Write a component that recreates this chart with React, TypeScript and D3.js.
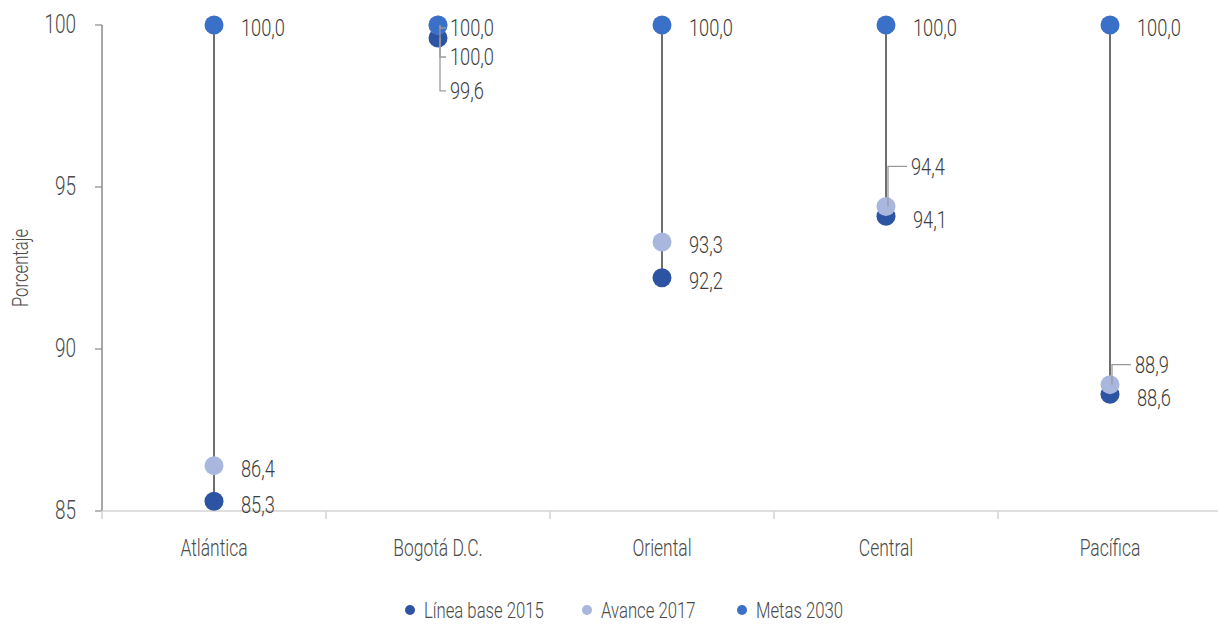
import React from 'react';
import * as d3 from 'd3';

const categories = ['Atlántica', 'Bogotá D.C.', 'Oriental', 'Central', 'Pacífica'];
const base2015 = [85.3, 99.6, 92.2, 94.1, 88.6];
const avance2017 = [86.4, 100.0, 93.3, 94.4, 88.9];
const metas2030 = [100.0, 100.0, 100.0, 100.0, 100.0];
const yTicks = [85, 90, 95, 100];
const seriesNames = ['Línea base 2015', 'Avance 2017', 'Metas 2030'];
const seriesColors = ['#2d54a3', '#a9b7de', '#3b70c9'];

const W = 1218;
const H = 626;
const FONT = "'Roboto', 'DejaVu Sans Condensed', sans-serif";
const SX = 0.76; // fake a condensed face

// label offsets for crowded points: [dx, dy] of label from the point, leader if true
type Lbl = { dx: number; dy: number; leader?: boolean };
const labelTweaks: Record<string, Lbl> = {
  '1-2': { dx: 10, dy: 3, leader: true },
  '1-1': { dx: 10, dy: 32, leader: true },
  '1-0': { dx: 10, dy: 53, leader: true },
  '3-1': { dx: 23, dy: -40, leader: true },
  '3-0': { dx: 25, dy: 3 },
  '4-1': { dx: 23, dy: -20, leader: true },
  '4-0': { dx: 25, dy: 3 },
};

const T: React.FC<{ x: number; y: number; size: number; anchor?: string; fill?: string; rotate?: number; children: React.ReactNode }> =
  ({ x, y, size, anchor = 'start', fill = '#4a4a4a', rotate = 0, children }) => (
    <g transform={`translate(${x},${y}) rotate(${rotate}) scale(${SX},1)`}>
      <text x={0} y={0} dy="0.35em" textAnchor={anchor} fontSize={size} fontWeight={300} fill={fill}>{children}</text>
    </g>
  );

const App: React.FC = () => {
  const x = d3.scaleBand<string>().domain(categories).range([102, 1222]);
  const y = d3.scaleLinear().domain([85, 100]).range([511, 25]);
  const series = [base2015, avance2017, metas2030];
  const fmt = (v: number) => v.toFixed(1).replace('.', ',');

  return (
    <svg width={W} height={H} style={{ position: 'absolute', left: 0, top: 0, background: '#fff' }} fontFamily={FONT}>
      {/* y axis */}
      <line x1={102} x2={102} y1={y(100)} y2={y(85)} stroke="#8a8a8a" strokeWidth={1.5} />
      {yTicks.map(t => (
        <g key={t}>
          <line x1={95} x2={102} y1={y(t)} y2={y(t)} stroke="#8a8a8a" strokeWidth={1.2} />
          <T x={76} y={y(t) - 1} size={25} anchor="end">{t}</T>
        </g>
      ))}
      <T x={20} y={y(92.5)} size={22} anchor="middle" rotate={-90}>Porcentaje</T>

      {/* x axis */}
      <line x1={102} x2={W} y1={y(85)} y2={y(85)} stroke="#d4d4d4" strokeWidth={1.5} />
      {categories.map(c => (
        <g key={c}>
          <line x1={x(c)!} x2={x(c)!} y1={y(85)} y2={y(85) + 8} stroke="#d4d4d4" strokeWidth={1.5} />
          <T x={x(c)! + x.bandwidth() / 2} y={548} size={23} anchor="middle">{c}</T>
        </g>
      ))}

      {/* stems */}
      {categories.map((c, i) => {
        const cx = x(c)! + x.bandwidth() / 2;
        const lo = Math.min(base2015[i], avance2017[i], metas2030[i]);
        const hi = Math.max(base2015[i], avance2017[i], metas2030[i]);
        return <line key={c} x1={cx} x2={cx} y1={y(hi)} y2={y(lo)} stroke="#4a4a4a" strokeWidth={1.6} />;
      })}

      {/* dots */}
      {series.map((s, si) => (
        <g key={si}>
          {categories.map((c, i) => (
            <circle key={c} cx={x(c)! + x.bandwidth() / 2} cy={y(s[i])} r={9.5} fill={seriesColors[si]} />
          ))}
        </g>
      ))}

      {/* labels */}
      {series.map((s, si) => (
        <g key={si}>
          {categories.map((c, i) => {
            const cx = x(c)! + x.bandwidth() / 2;
            const cy = y(s[i]);
            const tw = labelTweaks[`${i}-${si}`] || { dx: 25, dy: 3 };
            const lx = cx + tw.dx;
            const ly = cy + tw.dy;
            return (
              <g key={c}>
                {tw.leader && (
                  <polyline
                    points={`${cx + 2},${cy} ${cx + 2},${ly} ${lx - 2},${ly}`}
                    fill="none" stroke="#9a9a9a" strokeWidth={1.3} />
                )}
                <T x={lx + 2} y={ly} size={24} fill="#3c3c3c">{fmt(s[i])}</T>
              </g>
            );
          })}
        </g>
      ))}

      {/* legend */}
      {[{ cx: 410 }, { cx: 587 }, { cx: 742 }].map((p, i) => (
        <g key={i}>
          <circle cx={p.cx} cy={610} r={5} fill={seriesColors[i]} />
          <T x={p.cx + 14} y={610} size={22}>{seriesNames[i]}</T>
        </g>
      ))}
    </svg>
  );
};

export default App;
